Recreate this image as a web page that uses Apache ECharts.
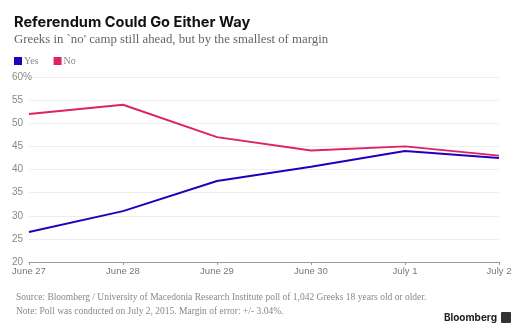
<!DOCTYPE html>
<html><head><meta charset="utf-8">
<script src="https://cdn.jsdelivr.net/npm/echarts@6/dist/echarts.min.js"></script>
<style>html,body{margin:0;padding:0;background:#fff}#c{width:528px;height:331px}</style>
</head><body><div id="c"></div>
<script>
const categories = ['June 27','June 28','June 29','June 30','July 1','July 2'];
const yesValues = [26.5, 31, 37.5, 40.6, 44, 42.5];
const noValues = [52, 54, 47, 44.1, 45, 43];
const yTicks = [20,25,30,35,40,45,50,55,60];

const chart = echarts.init(document.getElementById('c'), null, {renderer:'canvas'});
const sans = '"Liberation Sans", Arial, sans-serif';
chart.setOption({
  animation:false,
  backgroundColor:'#fff',
  title:[
    {text:'Referendum Could Go Either Way', left:14, top:15, padding:0,
     textStyle:{fontFamily:'Inter, "Liberation Sans", sans-serif', fontWeight:'bold', fontSize:14.6, color:'#111'}},
    {text:"Greeks in `no' camp still ahead, but by the smallest of margin", left:14, top:33, padding:0,
     textStyle:{fontFamily:'"Liberation Serif", serif', fontWeight:'normal', fontSize:12.8, color:'#666'}},
    {text:'Source: Bloomberg / University of Macedonia Research Institute poll of 1,042 Greeks 18 years old or older.\nNote: Poll was conducted on July 2, 2015. Margin of error: +/- 3.04%.', left:16, top:290, padding:0,
     textStyle:{fontFamily:'"Liberation Serif", serif', fontWeight:'normal', fontSize:9.5, lineHeight:14, color:'#888'}}
  ],
  graphic:[
    {type:'text', x:497, y:318, style:{text:'Bloomberg', textAlign:'right', textVerticalAlign:'middle',
      font:'bold 10px Inter, "Liberation Sans", sans-serif', fill:'#222'}},
    {type:'rect', shape:{x:501, y:312, width:10, height:11, r:1}, style:{fill:'#333'}}
  ],
  legend:{
    data:['Yes','No'], left:14, top:56, padding:0, itemWidth:8, itemHeight:8, itemGap:15, icon:'rect',
    textStyle:{fontFamily:'"Liberation Serif", serif', fontSize:10, color:'#888', padding:[0,0,0,-3]}
  },
  grid:{left:29, right:29, top:77, bottom:69},
  xAxis:{
    type:'category', data:categories, boundaryGap:false,
    axisLine:{lineStyle:{color:'#999', width:1}},
    axisTick:{show:true, alignWithLabel:true, length:3, lineStyle:{color:'#999'}},
    axisLabel:{fontFamily:sans, fontSize:9.5, color:'#777', margin:4},
    splitLine:{show:false}
  },
  yAxis:{
    type:'value', min:20, max:60, interval:5,
    axisLine:{show:false}, axisTick:{show:false},
    axisLabel:{fontFamily:sans, fontSize:10, color:'#888', align:'left', margin:17,
      formatter:function(v){return v===60 ? '60%' : String(v);}},
    splitLine:{lineStyle:{color:'#eeeeee', width:1}}
  },
  series:[
    {name:'Yes', type:'line', data:yesValues, symbol:'none', color:'#2200bb',
     lineStyle:{width:2, color:'#2200bb'}},
    {name:'No', type:'line', data:noValues, symbol:'none', color:'#dd2266',
     lineStyle:{width:2, color:'#dd2266'}}
  ]
});
</script></body></html>
